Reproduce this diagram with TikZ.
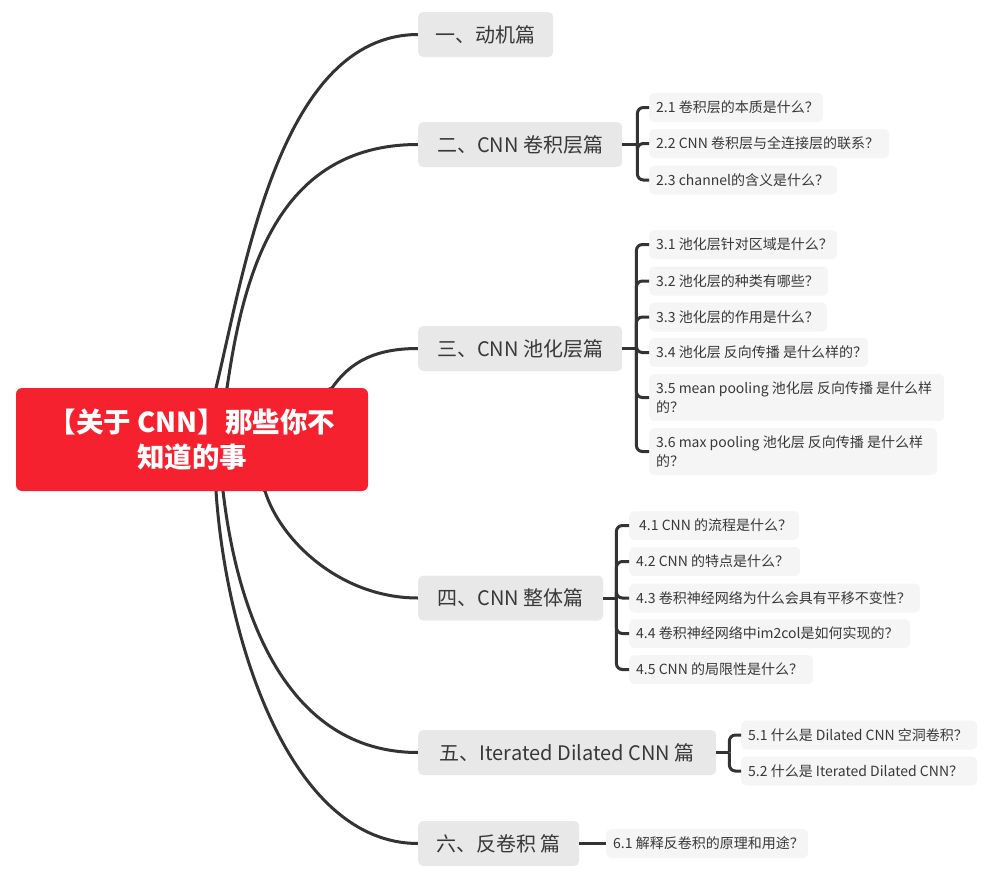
\documentclass[tikz,border=0pt]{standalone}
\usepackage{fontspec}
\setmainfont{Noto Sans CJK SC}
\usetikzlibrary{backgrounds,calc}
\definecolor{rootred}{HTML}{F5212F}
\definecolor{pgray}{HTML}{E8E8E8}
\definecolor{lgray}{HTML}{F5F5F5}
\definecolor{ink}{HTML}{333333}
\definecolor{txt}{HTML}{383838}
\newcommand\lbx[2]{\makebox[\dimexpr#1pt-14pt\relax][l]{#2}}
\tikzset{
  rootbox/.style={fill=rootred, rounded corners=6, text=white, font=\fontsize{27.5}{35}\selectfont\bfseries, align=center, minimum width=352, minimum height=103, inner sep=0},
  parentbox/.style={fill=pgray, rounded corners=5, text=txt, font=\fontsize{20}{24}\selectfont, minimum height=45, inner sep=0, anchor=west},
  leafbox/.style={fill=lgray, rounded corners=5, text=txt, font=\fontsize{14}{19.5}\selectfont, minimum height=29, inner xsep=7, inner ysep=0, anchor=west, align=left},
  conn/.style={draw=ink, line width=3},
  brk/.style={draw=ink, line width=3, rounded corners=6},
}
\begin{document}
\begin{tikzpicture}[x=1pt,y=-1pt]
\useasboundingbox (0,0) rectangle (991,878);
\node[rootbox] (root) at (192,439.5) {【关于 CNN】那些你不\\知道的事};

\node[parentbox, minimum width=135] (p1) at (418,34.5) {一、动机篇};
\node[parentbox, minimum width=204] (p2) at (418,144.5) {二、CNN 卷积层篇};
\node[parentbox, minimum width=204] (p3) at (418,348.5) {三、CNN 池化层篇};
\node[parentbox, minimum width=185] (p4) at (418,598) {四、CNN 整体篇};
\node[parentbox, minimum width=298] (p5) at (418,752.5) {五、Iterated Dilated CNN 篇};
\node[parentbox, minimum width=161] (p6) at (418,843.5) {六、反卷积 篇};

\node[leafbox] (l21) at (649,107.5) {\lbx{174}{2.1 卷积层的本质是什么？}};
\node[leafbox] (l22) at (649,143.5) {\lbx{240}{2.2 CNN 卷积层与全连接层的联系？}};
\node[leafbox] (l23) at (649,180) {\lbx{188}{2.3 channel的含义是什么？}};

\node[leafbox] (l31) at (649,244.5) {\lbx{188}{3.1 池化层针对区域是什么？}};
\node[leafbox] (l32) at (649,281) {\lbx{179}{3.2 池化层的种类有哪些？}};
\node[leafbox] (l33) at (649,317) {\lbx{178}{3.3 池化层的作用是什么？}};
\node[leafbox] (l34) at (649,352.5) {\lbx{219}{3.4 池化层 反向传播 是什么样的？}};
\node[leafbox, minimum height=47] (l35) at (649,397.5) {\lbx{295}{3.5 mean pooling 池化层 反向传播 是什么样}\\的？};
\node[leafbox, minimum height=47] (l36) at (649,451.5) {\lbx{288}{3.6 max pooling 池化层 反向传播 是什么样}\\的？};

\node[leafbox] (l41) at (629,525.5) {\lbx{170}{\hspace{3pt}4.1 CNN 的流程是什么？}};
\node[leafbox] (l42) at (629,561.5) {\lbx{171}{4.2 CNN 的特点是什么？}};
\node[leafbox] (l43) at (629,598) {\lbx{291}{4.3 卷积神经网络为什么会具有平移不变性？}};
\node[leafbox] (l44) at (629,633.5) {\lbx{281}{4.4 卷积神经网络中im2col是如何实现的？}};
\node[leafbox] (l45) at (629,669.5) {\lbx{184}{4.5 CNN 的局限性是什么？}};

\node[leafbox] (l51) at (741,735) {\lbx{236}{5.1 什么是 Dilated CNN 空洞卷积？}};
\node[leafbox] (l52) at (741,771) {\lbx{236}{5.2 什么是 Iterated Dilated CNN？}};

\node[leafbox] (l61) at (606,843.5) {\lbx{202}{6.1 解释反卷积的原理和用途？}};

\coordinate (t2) at ($(p2.east)+(15,0)$);
\coordinate (t3) at ($(p3.east)+(14,0)$);
\coordinate (t4) at ($(p4.east)+(13,0)$);
\coordinate (t5) at ($(p5.east)+(13,0)$);

\begin{scope}[on background layer]
\draw[conn] (root.center) -- (216,388) .. controls (245,268) and (280,35) .. (p1.west);
\draw[conn] (root.center) -- (227,388) .. controls (243,278) and (275,144.5) .. (p2.west);
\draw[conn] (root.center) -- (332,388) .. controls (350,362) and (375,348.5) .. (p3.west);
\draw[conn] (root.center) -- (265,491) .. controls (280,540) and (340,598) .. (p4.west);
\draw[conn] (root.center) -- (223,491) .. controls (237,611) and (285,752.5) .. (p5.west);
\draw[conn] (root.center) -- (216,491) .. controls (226,640) and (290,843.5) .. (p6.west);
\end{scope}

\draw[conn] (p2.east) -- (t2);
\foreach \l in {l21,l22,l23} \draw[brk] (t2) |- (\l.west);
\draw[conn] (p3.east) -- (t3);
\foreach \l in {l31,l32,l33,l34,l35,l36} \draw[brk] (t3) |- (\l.west);
\draw[conn] (p4.east) -- (t4);
\foreach \l in {l41,l42,l43,l44,l45} \draw[brk] (t4) |- (\l.west);
\draw[conn] (p5.east) -- (t5);
\foreach \l in {l51,l52} \draw[brk] (t5) |- (\l.west);
\draw[conn] (p6.east) -- (l61.west);
\end{tikzpicture}
\end{document}
